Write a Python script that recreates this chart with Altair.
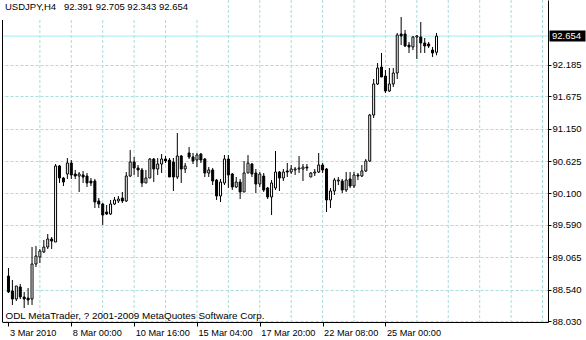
import altair as alt
import pandas as pd

# ---- data (USDJPY H4, bar 0 = first bar on 3 Mar 2010) ----
opens = [88.760, 88.517, 88.387, 88.582, 88.420, 88.403, 88.387, 88.955, 89.069, 89.150,
         89.231, 89.361, 89.312, 90.546, 90.351, 90.416, 90.594, 90.416, 90.383, 90.400,
         90.383, 90.302, 90.302, 89.978, 89.929, 89.799, 89.767, 89.929, 89.978, 90.026,
         89.978, 90.383, 90.611, 90.513, 90.481, 90.270, 90.351, 90.659, 90.497, 90.578,
         90.659, 90.643, 90.611, 90.367, 90.708, 90.497, 90.757, 90.692, 90.643, 90.740,
         90.659, 90.432, 90.481, 90.318, 90.059, 90.270, 90.659, 90.416, 90.205, 90.286,
         90.124, 90.432, 90.578, 90.432, 90.254, 90.383, 90.189, 90.043, 90.189, 90.448,
         90.351, 90.465, 90.448, 90.481, 90.497, 90.497, 90.529, 90.367, 90.432, 90.448,
         90.562, 90.497, 89.994, 90.140, 90.302, 90.302, 90.156, 90.335, 90.221, 90.400,
         90.383, 90.465, 90.627, 91.373, 91.877, 92.152, 92.006, 91.763, 91.877, 92.055,
         92.688, 92.688, 92.509, 92.477, 92.639, 92.639, 92.542, 92.526, 92.428, 92.391]
highs = [88.890, 88.695, 88.598, 88.631, 88.501, 88.566, 89.231, 89.247, 89.199, 89.345,
         89.442, 89.393, 90.578, 90.562, 90.367, 90.675, 90.643, 90.481, 90.448, 90.465,
         90.432, 90.351, 90.335, 90.026, 89.945, 89.913, 89.994, 90.043, 90.059, 90.124,
         90.448, 90.805, 90.692, 90.562, 90.513, 90.481, 90.675, 90.675, 90.675, 90.740,
         90.708, 90.675, 90.675, 91.081, 90.724, 90.594, 90.854, 90.757, 90.757, 90.757,
         90.675, 90.529, 90.513, 90.335, 90.335, 90.724, 90.724, 90.432, 90.367, 90.335,
         90.627, 90.724, 90.594, 90.497, 90.448, 90.432, 90.205, 90.318, 90.789, 90.465,
         90.497, 90.594, 90.562, 90.529, 90.708, 90.578, 90.578, 90.448, 90.497, 90.757,
         90.594, 90.513, 90.189, 90.351, 90.367, 90.335, 90.448, 90.448, 90.448, 90.432,
         90.562, 90.659, 91.390, 91.958, 92.217, 92.380, 92.104, 92.136, 92.136, 92.704,
         92.964, 92.753, 92.558, 92.656, 92.672, 92.883, 92.623, 92.558, 92.477, 92.705]
lows = [88.484, 88.290, 88.355, 88.387, 88.241, 88.290, 88.290, 88.906, 88.971, 89.134,
        89.199, 89.199, 89.312, 90.270, 90.221, 90.335, 90.335, 90.335, 90.124, 90.270,
        90.205, 90.221, 89.864, 89.864, 89.588, 89.750, 89.750, 89.913, 89.945, 89.945,
        89.961, 90.367, 90.400, 90.367, 90.205, 90.270, 90.351, 90.286, 90.400, 90.432,
        90.594, 90.367, 90.140, 90.335, 90.270, 90.432, 90.659, 90.578, 90.529, 90.594,
        90.367, 90.367, 90.237, 89.994, 89.961, 90.237, 90.189, 90.156, 90.189, 90.010,
        90.124, 90.432, 90.367, 90.107, 90.205, 90.124, 90.010, 89.750, 90.156, 90.140,
        90.302, 90.367, 90.416, 90.400, 90.432, 90.302, 90.465, 90.367, 90.383, 90.432,
        90.432, 89.799, 89.864, 90.075, 90.237, 90.107, 90.124, 90.189, 90.189, 90.318,
        90.367, 90.448, 90.611, 91.325, 91.860, 91.990, 91.730, 91.747, 91.828, 91.958,
        92.509, 92.477, 92.380, 92.428, 92.282, 92.380, 92.380, 92.461, 92.315, 92.343]
closes = [88.501, 88.387, 88.598, 88.420, 88.387, 88.371, 88.955, 89.085, 89.166, 89.231,
          89.361, 89.328, 90.546, 90.351, 90.286, 90.594, 90.400, 90.383, 90.416, 90.367,
          90.270, 90.270, 89.961, 89.929, 89.750, 89.767, 89.929, 89.994, 90.010, 89.978,
          90.383, 90.611, 90.513, 90.481, 90.270, 90.351, 90.659, 90.497, 90.578, 90.659,
          90.627, 90.367, 90.367, 90.708, 90.497, 90.546, 90.692, 90.627, 90.724, 90.643,
          90.432, 90.481, 90.302, 90.059, 90.286, 90.659, 90.400, 90.205, 90.286, 90.124,
          90.432, 90.594, 90.416, 90.254, 90.416, 90.156, 90.043, 90.270, 90.448, 90.351,
          90.448, 90.448, 90.497, 90.497, 90.513, 90.529, 90.513, 90.432, 90.448, 90.562,
          90.481, 89.994, 90.140, 90.318, 90.318, 90.156, 90.318, 90.221, 90.400, 90.383,
          90.465, 90.627, 91.373, 91.877, 92.136, 91.990, 91.763, 91.877, 92.055, 92.672,
          92.656, 92.493, 92.477, 92.639, 92.656, 92.542, 92.493, 92.493, 92.380, 92.654]

time_tick_bars = [0, 16, 32, 48, 64, 80, 96]
time_tick_labels = ["3 Mar 2010", "8 Mar 00:00", "10 Mar 16:00", "15 Mar 04:00",
                    "17 Mar 20:00", "22 Mar 08:00", "25 Mar 00:00"]
vgrid_bars = list(range(8, 137, 8))
price_ticks = [88.030, 88.540, 89.065, 89.590, 90.100, 90.625, 91.150, 91.675, 92.185]
last_price = [92.654]
header = ["USDJPY,H4\u00a0\u00a0\u00a092.391 92.705 92.343 92.654"]
footer = ["ODL MetaTrader, ? 2001-2009 MetaQuotes Software Corp."]

# ---- build ----
df = pd.DataFrame({"bar": list(range(len(opens))), "open": opens, "high": highs,
                   "low": lows, "close": closes})
df["dir"] = ["up" if c > o else "down" for o, c in zip(opens, closes)]

FONT = "Liberation Sans"
GRID = "#a9dcdc"
PRICE = "#9eeeee"

x_scale = alt.Scale(domain=[-0.375, 136.125], nice=False, zero=False)
y_scale = alt.Scale(domain=[88.0138, 93.2398], nice=False, zero=False)

label_arr = "[" + ",".join("'%s'" % s for s in time_tick_labels) + "]"

x_axis = alt.Axis(values=time_tick_bars, labelExpr=label_arr + "[round(datum.value / 16)]",
                  title=None, grid=False, domainColor="black", tickColor="black",
                  tickSize=4, labelPadding=2, labelAlign="left", labelOffset=1,
                  labelFont=FONT, labelFontSize=9.2, labelColor="black",
                  labelFlush=False, labelOverlap=False)
y_axis = alt.Axis(orient="right", values=price_ticks, format=".3f", title=None,
                  grid=True, gridColor=GRID, gridDash=[3, 2], gridWidth=1,
                  domainColor="black", tickColor="black", tickSize=3, labelPadding=1,
                  labelFont=FONT, labelFontSize=9.5, labelColor="black",
                  labelAlign="left", labelBaseline="middle", labelFlush=False,
                  labelOverlap=False)


def X(field):
    return alt.X(field, scale=x_scale, axis=x_axis)


def Y(field):
    return alt.Y(field, scale=y_scale, axis=y_axis)


one = pd.DataFrame({"a": [0]})

vgrid = alt.Chart(pd.DataFrame({"g": vgrid_bars})).mark_rule(
    color=GRID, strokeDash=[3, 2], strokeWidth=1
).encode(x=X("g:Q"))

pline = alt.Chart(pd.DataFrame({"p": last_price})).mark_rule(
    color=PRICE, strokeWidth=1
).encode(y=Y("p:Q"))

cover = alt.Chart(one).mark_rect(color="white").encode(
    x=alt.value(-2), x2=alt.value(198), y=alt.value(0), y2=alt.value(20))

left_border = alt.Chart(one).mark_rule(color="black", strokeWidth=1).encode(
    x=alt.value(0.5), y=alt.value(20), y2=alt.value(322))

wicks = alt.Chart(df).mark_rule(color="black", strokeWidth=1).encode(
    x=X("bar:Q"), y=Y("low:Q"), y2="high:Q")

bodies = alt.Chart(df).mark_bar(size=2, stroke="black", strokeWidth=1).encode(
    x=X("bar:Q"), y=Y("open:Q"), y2="close:Q",
    fill=alt.Fill("dir:N", scale=alt.Scale(domain=["up", "down"], range=["white", "black"]),
                  legend=None))

title_txt = alt.Chart(pd.DataFrame({"t": header})).mark_text(
    align="left", baseline="alphabetic", font=FONT, fontSize=9.5, color="black"
).encode(x=alt.value(3), y=alt.value(10), text="t:N")

foot_txt = alt.Chart(pd.DataFrame({"t": footer})).mark_text(
    align="left", baseline="alphabetic", font=FONT, fontSize=9.9, color="black"
).encode(x=alt.value(3.5), y=alt.value(319), text="t:N")

box = alt.Chart(pd.DataFrame({"p": last_price})).mark_point(
    shape="M-1,-0.3056L1,-0.3056L1,0.3056L-1,0.3056Z", size=1296, filled=True,
    color="black", opacity=1, strokeWidth=0
).encode(x=alt.value(565.5), y=Y("p:Q"))

box_txt = alt.Chart(pd.DataFrame({"p": last_price})).mark_text(
    align="left", baseline="middle", font=FONT, fontSize=9.5, color="white"
).encode(x=alt.value(550), y=Y("p:Q"), text=alt.Text("p:Q", format=".3f"))

chart = alt.layer(
    vgrid, pline, cover, left_border, wicks, bodies, title_txt, foot_txt, box, box_txt
).properties(
    width=546, height=322,
    padding={"left": 2, "top": 0, "right": 38, "bottom": 18},
    autosize="none", background="white"
).configure_view(stroke=None)

chart.save("out.html", embed_options={"renderer": "svg", "actions": False})
